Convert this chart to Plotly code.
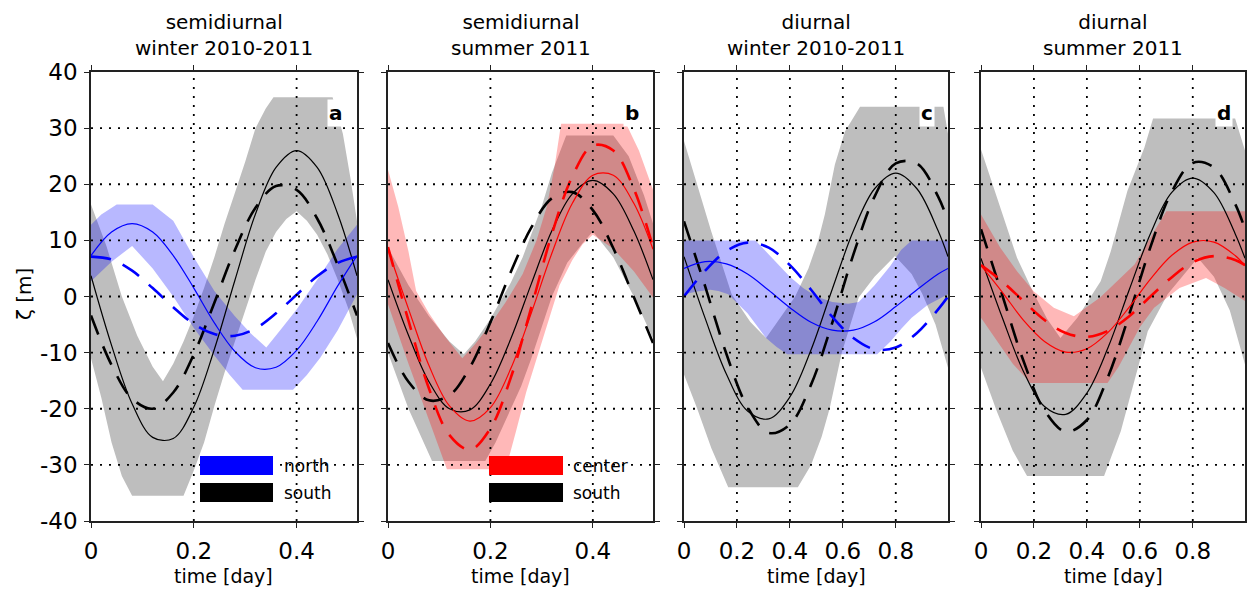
import plotly.graph_objects as go

# ---------------- data ----------------
# time grids [day]
TS = [0, 0.04, 0.08, 0.12, 0.16, 0.20, 0.24, 0.28, 0.32, 0.36, 0.40, 0.44, 0.48, 0.5175]
TD = [0, 0.08, 0.16, 0.24, 0.32, 0.40, 0.48, 0.56, 0.64, 0.72, 0.80, 0.88, 0.96, 0.9973]

Y_TICKS = [-40, -30, -20, -10, 0, 10, 20, 30, 40]
Y_TICKTEXT = ["-40", "-30", "-20", "-10", "0", "10", "20", "30", "40"]
X_TICKS_SEMI = [0, 0.2, 0.4]
X_TICKTEXT_SEMI = ["0", "0.2", "0.4"]
X_TICKS_DIUR = [0, 0.2, 0.4, 0.6, 0.8]
X_TICKTEXT_DIUR = ["0", "0.2", "0.4", "0.6", "0.8"]

# panel a: semidiurnal winter 2010-2011 (north / south)
a_south_model = [3.7, -8.7, -19.1, -25.1, -25.3, -19.7, -9.4, 2.9, 14.7, 23.0, 26.0, 23.0, 14.7, 3.7]
a_south_obs = [-3.4, -12.2, -18.2, -20.0, -17.1, -10.3, -1.1, 8.3, 15.8, 19.7, 19.0, 13.9, 5.6, -3.4]
a_north_model = [7.3, 11.5, 13.0, 11.5, 7.3, 1.5, -4.7, -9.8, -12.7, -12.6, -9.6, -4.4, 1.9, 7.3]
a_north_obs = [7.1, 6.6, 4.6, 1.5, -1.9, -4.9, -6.7, -7.0, -5.7, -3.0, 0.3, 3.6, 6.0, 7.1]
a_gray_up_t = [0, 0.03, 0.06, 0.09, 0.12, 0.14, 0.16, 0.18, 0.20, 0.22, 0.24, 0.26, 0.28, 0.30, 0.32, 0.34, 0.355, 0.47, 0.49, 0.505, 0.5175]
a_gray_up = [16.4, 9.0, 0.0, -7.0, -12.5, -15.1, -12.0, -8.0, -3.5, 1.5, 7.0, 13.0, 18.5, 24.0, 30.0, 33.5, 35.5, 35.5, 29.0, 21.0, 13.4]
a_gray_lo_t = [0, 0.02, 0.04, 0.06, 0.08, 0.18, 0.20, 0.22, 0.24, 0.26, 0.28, 0.30, 0.32, 0.34, 0.36, 0.38, 0.40, 0.42, 0.44, 0.46, 0.48, 0.50, 0.5175]
a_gray_lo = [-11.0, -18.0, -26.0, -32.0, -35.5, -35.5, -31.0, -26.0, -19.5, -13.5, -8.0, -2.5, 3.0, 8.0, 11.5, 13.8, 15.2, 13.5, 11.0, 7.5, 3.0, -2.0, -7.5]
a_band_up_t = [0, 0.02, 0.05, 0.12, 0.16, 0.20, 0.24, 0.28, 0.31, 0.341, 0.37, 0.40, 0.44, 0.48, 0.5175]
a_band_up = [12.8, 14.6, 16.4, 16.4, 13.5, 7.0, 1.0, -3.5, -6.5, -9.1, -5.8, -2.3, 3.0, 8.5, 12.8]
a_band_lo_t = [0, 0.04, 0.08, 0.12, 0.16, 0.20, 0.24, 0.27, 0.295, 0.393, 0.42, 0.446, 0.48, 0.5175]
a_band_lo = [2.7, 6.2, 9.0, 5.0, 0.0, -5.6, -10.5, -14.0, -16.6, -16.6, -14.0, -10.9, -6.0, 0.4]

# panel b: semidiurnal summer 2011 (center / south)
b_south_model = [3.0, -6.9, -15.2, -20.0, -20.2, -15.6, -7.5, 2.3, 11.7, 18.3, 20.7, 18.3, 11.7, 3.0]
b_south_obs = [-8.3, -15.2, -18.5, -17.6, -12.6, -4.6, 4.4, 12.3, 17.5, 18.6, 15.4, 8.6, -0.1, -8.3]
b_center_model = [8.4, -2.2, -12.3, -19.5, -22.2, -19.8, -12.8, -2.9, 7.7, 16.6, 21.6, 21.6, 16.6, 8.4]
b_center_obs = [8.8, -4.3, -16.4, -24.7, -27.3, -23.5, -14.4, -1.9, 11.1, 21.4, 26.9, 26.0, 19.2, 8.8]
b_gray_up_t = [0, 0.04, 0.08, 0.12, 0.148, 0.17, 0.20, 0.24, 0.263, 0.28, 0.30, 0.32, 0.348, 0.44, 0.47, 0.50, 0.5175]
b_gray_up = [8.7, 2.0, -3.5, -8.0, -10.3, -8.0, -4.0, 2.5, 7.0, 11.0, 16.0, 22.0, 28.7, 28.7, 25.0, 18.0, 13.0]
b_gray_lo_t = [0, 0.04, 0.086, 0.19, 0.21, 0.24, 0.26, 0.28, 0.30, 0.32, 0.35, 0.38, 0.40, 0.44, 0.48, 0.5175]
b_gray_lo = [-10.0, -20.0, -29.3, -29.3, -26.0, -20.0, -16.0, -11.0, -5.5, 0.0, 6.0, 9.5, 11.6, 7.0, 0.0, -7.5]
b_band_up_t = [0, 0.02, 0.04, 0.055, 0.08, 0.11, 0.145, 0.17, 0.20, 0.23, 0.263, 0.29, 0.31, 0.325, 0.338, 0.465, 0.49, 0.5175]
b_band_up = [22.6, 16.0, 8.0, 1.0, -3.0, -7.0, -11.0, -8.5, -5.0, -1.0, 4.0, 10.0, 16.0, 23.0, 30.8, 30.8, 26.0, 19.0]
b_band_lo_t = [0, 0.04, 0.08, 0.10, 0.115, 0.23, 0.25, 0.27, 0.30, 0.335, 0.36, 0.38, 0.40, 0.44, 0.48, 0.5175]
b_band_lo = [-1.4, -12.0, -22.0, -27.0, -30.8, -30.8, -24.0, -17.0, -8.0, 2.0, 6.5, 9.3, 11.0, 8.5, 4.5, -0.2]

# panel c: diurnal winter 2010-2011 (north / south)
c_south_model = [7.1, -3.9, -13.8, -20.4, -21.8, -17.9, -9.5, 1.3, 11.7, 19.2, 22.0, 19.2, 11.7, 7.1]
c_south_obs = [13.4, 1.8, -10.2, -19.7, -24.3, -22.8, -15.7, -4.7, 7.5, 17.8, 23.7, 23.7, 17.8, 13.4]
c_north_model = [5.0, 6.2, 5.8, 4.0, 1.1, -2.0, -4.6, -6.0, -6.0, -4.5, -1.8, 1.2, 4.0, 5.0]
c_north_obs = [0.0, 4.6, 8.1, 9.6, 8.7, 5.6, 1.2, -3.6, -7.4, -9.4, -9.1, -6.5, -2.3, 0.0]
c_gray_up_t = [0, 0.05, 0.103, 0.18, 0.25, 0.31, 0.36, 0.42, 0.47, 0.507, 0.532, 0.57, 0.608, 0.665, 0.98, 0.9973]
c_gray_up = [27.7, 20.0, 11.6, 0.4, -4.5, -7.4, -4.0, 0.0, 5.0, 10.0, 14.6, 23.5, 29.4, 33.8, 33.8, 29.0]
c_gray_lo_t = [0, 0.05, 0.103, 0.167, 0.43, 0.48, 0.52, 0.55, 0.596, 0.66, 0.72, 0.797, 0.86, 0.90, 0.95, 0.9973]
c_gray_lo = [-13.9, -20.0, -27.0, -34.0, -34.0, -30.0, -25.0, -20.0, -10.0, -0.2, 3.5, 7.2, 4.0, 0.5, -5.0, -12.7]
c_band_up_t = [0, 0.27, 0.30, 0.35, 0.40, 0.45, 0.50, 0.56, 0.62, 0.66, 0.72, 0.78, 0.82, 0.86, 0.9973]
c_band_up = [10.0, 10.0, 8.5, 6.0, 3.5, 1.5, 0.0, -1.0, -1.3, -1.0, 2.0, 5.5, 8.3, 10.0, 10.0]
c_band_lo_t = [0, 0.05, 0.10, 0.13, 0.167, 0.24, 0.31, 0.35, 0.39, 0.73, 0.78, 0.82, 0.86, 0.92, 0.9973]
c_band_lo = [0.4, 0.9, 1.2, 1.0, 0.4, -3.0, -7.4, -9.0, -10.3, -10.3, -8.0, -5.8, -3.8, -1.5, 0.4]

# panel d: diurnal summer 2011 (center / south)
d_south_model = [6.8, -3.7, -13.3, -19.6, -21.0, -17.2, -9.1, 1.2, 11.2, 18.5, 21.1, 18.5, 11.2, 6.8]
d_south_obs = [12.0, 0.3, -11.4, -20.3, -24.1, -22.0, -14.3, -3.2, 8.8, 18.6, 23.8, 23.0, 16.5, 12.0]
d_center_model = [5.5, 0.8, -4.2, -8.0, -9.9, -9.3, -6.4, -1.9, 3.1, 7.3, 9.7, 9.7, 7.3, 5.5]
d_center_obs = [5.6, 2.7, -0.8, -4.2, -6.5, -7.2, -6.1, -3.5, 0.0, 3.4, 6.1, 7.2, 6.5, 5.6]
d_gray_up_t = [0, 0.073, 0.136, 0.20, 0.25, 0.30, 0.364, 0.452, 0.49, 0.553, 0.617, 0.65, 0.96, 0.9973]
d_gray_up = [26.2, 15.8, 6.9, 0.5, -4.0, -7.4, -3.8, 2.7, 8.0, 18.8, 26.5, 31.7, 31.7, 26.0]
d_gray_lo_t = [0, 0.06, 0.12, 0.174, 0.465, 0.528, 0.579, 0.63, 0.705, 0.819, 0.88, 0.94, 0.9973]
d_gray_lo = [-12.7, -20.5, -27.5, -32.0, -32.0, -24.0, -15.0, -6.2, 0.4, 6.9, 3.5, -2.5, -12.1]
d_band_up_t = [0, 0.073, 0.136, 0.20, 0.275, 0.351, 0.45, 0.58, 0.64, 0.70, 0.9973]
d_band_up = [14.6, 8.7, 4.5, 0.9, -2.0, -3.5, -0.2, 5.7, 10.5, 15.2, 15.2]
d_band_lo_t = [0, 0.06, 0.12, 0.187, 0.478, 0.52, 0.553, 0.60, 0.654, 0.75, 0.85, 0.92, 0.9973]
d_band_lo = [-3.8, -8.0, -12.0, -15.4, -15.4, -12.5, -9.7, -5.5, -2.0, 1.5, 3.3, 1.5, -0.8]

TITLES = ["semidiurnal<br>winter 2010-2011", "semidiurnal<br>summer 2011",
          "diurnal<br>winter 2010-2011", "diurnal<br>summer 2011"]
LABELS = ["a", "b", "c", "d"]
REGION = ["north", "center", "north", "center"]

# ---------------- styling ----------------
FONT = "DejaVu Sans"
GRAY = "rgb(190,190,190)"
COLORS = {"north": "#0000ff", "center": "#ff0000"}
FILLS = {"north": "rgba(0,0,255,0.28)", "center": "rgba(255,0,0,0.28)"}
DASH = "20px,13px"

X_DOMAINS = [[91 / 1247, 357 / 1247], [388 / 1247, 653 / 1247],
             [684 / 1247, 948 / 1247], [981 / 1247, 1245 / 1247]]
Y_DOMAIN = [69 / 590, 518 / 590]

panels = [
    dict(t=TS, rng=[0, 0.5175], xt=(X_TICKS_SEMI, X_TICKTEXT_SEMI),
         sm=a_south_model, so=a_south_obs, cm=a_north_model, co=a_north_obs,
         gu=(a_gray_up_t, a_gray_up), gl=(a_gray_lo_t, a_gray_lo),
         bu=(a_band_up_t, a_band_up), bl=(a_band_lo_t, a_band_lo)),
    dict(t=TS, rng=[0, 0.5175], xt=(X_TICKS_SEMI, X_TICKTEXT_SEMI),
         sm=b_south_model, so=b_south_obs, cm=b_center_model, co=b_center_obs,
         gu=(b_gray_up_t, b_gray_up), gl=(b_gray_lo_t, b_gray_lo),
         bu=(b_band_up_t, b_band_up), bl=(b_band_lo_t, b_band_lo)),
    dict(t=TD, rng=[0, 0.9973], xt=(X_TICKS_DIUR, X_TICKTEXT_DIUR),
         sm=c_south_model, so=c_south_obs, cm=c_north_model, co=c_north_obs,
         gu=(c_gray_up_t, c_gray_up), gl=(c_gray_lo_t, c_gray_lo),
         bu=(c_band_up_t, c_band_up), bl=(c_band_lo_t, c_band_lo)),
    dict(t=TD, rng=[0, 0.9973], xt=(X_TICKS_DIUR, X_TICKTEXT_DIUR),
         sm=d_south_model, so=d_south_obs, cm=d_center_model, co=d_center_obs,
         gu=(d_gray_up_t, d_gray_up), gl=(d_gray_lo_t, d_gray_lo),
         bu=(d_band_up_t, d_band_up), bl=(d_band_lo_t, d_band_lo)),
]

fig = go.Figure()
layout = dict(template="none", width=1247, height=590, margin=dict(l=0, r=0, t=0, b=0, pad=0),
              paper_bgcolor="white", plot_bgcolor="white", showlegend=False,
              font=dict(family=FONT, color="black"))
shapes = []
annotations = []

for i, p in enumerate(panels):
    n = "" if i == 0 else str(i + 1)
    xa, ya = "x" + n, "y" + n
    reg = REGION[i]

    def band(up, lo, color):
        xs = list(up[0]) + list(lo[0])[::-1]
        ys = list(up[1]) + list(lo[1])[::-1]
        return go.Scatter(x=xs, y=ys, mode="lines", fill="toself", fillcolor=color,
                          line=dict(width=0), hoverinfo="skip", xaxis=xa, yaxis=ya)

    fig.add_trace(band(p["gu"], p["gl"], GRAY))
    fig.add_trace(band(p["bu"], p["bl"], FILLS[reg]))
    fig.add_trace(go.Scatter(x=p["t"], y=p["sm"], mode="lines", line=dict(color="black", width=1.2, shape="spline"),
                             xaxis=xa, yaxis=ya, name="south model"))
    fig.add_trace(go.Scatter(x=p["t"], y=p["so"], mode="lines", line=dict(color="black", width=2.6, dash=DASH, shape="spline"),
                             xaxis=xa, yaxis=ya, name="south obs"))
    fig.add_trace(go.Scatter(x=p["t"], y=p["cm"], mode="lines", line=dict(color=COLORS[reg], width=1.2, shape="spline"),
                             xaxis=xa, yaxis=ya, name=reg + " model"))
    fig.add_trace(go.Scatter(x=p["t"], y=p["co"], mode="lines", line=dict(color=COLORS[reg], width=2.6, dash=DASH, shape="spline"),
                             xaxis=xa, yaxis=ya, name=reg + " obs"))

    axline = dict(showline=True, linecolor="#222", linewidth=1.5, mirror="ticks", ticks="outside",
                  ticklen=5, tickwidth=1.3, tickcolor="#222", showgrid=False, zeroline=False,
                  automargin=False, tickfont=dict(family=FONT, size=23, color="black"))
    layout["xaxis" + n] = dict(axline, domain=X_DOMAINS[i], range=p["rng"], anchor=ya,
                               tickvals=p["xt"][0], ticktext=p["xt"][1], ticklabelstandoff=4)
    layout["yaxis" + n] = dict(axline, domain=Y_DOMAIN, range=[-40, 40], anchor=xa,
                               tickvals=Y_TICKS, ticktext=Y_TICKTEXT, showticklabels=(i == 0),
                               ticklabelstandoff=2)

    # dotted grid drawn above the bands
    for xv in p["xt"][0][1:]:
        shapes.append(dict(type="line", xref=xa, yref=ya + " domain", x0=xv, x1=xv, y0=0, y1=1,
                           line=dict(color="black", width=1.8, dash="2px,7px"), layer="above"))
    for yv in Y_TICKS[1:-1]:
        shapes.append(dict(type="line", xref=xa + " domain", yref=ya, x0=0, x1=1, y0=yv, y1=yv,
                           line=dict(color="black", width=1.8, dash="2px,7px"), layer="above"))

    # titles
    annotations.append(dict(text=TITLES[i], xref=xa + " domain", yref="paper", x=0.5, y=1 - 35 / 590,
                            showarrow=False, font=dict(family=FONT, size=20, color="black"),
                            xanchor="center", yanchor="middle"))
    annotations.append(dict(text="time [day]", xref=xa + " domain", yref="paper", x=0.5, y=1 - 576 / 590,
                            showarrow=False, font=dict(family=FONT, size=19, color="black"),
                            xanchor="center", yanchor="middle"))
    # panel letter
    annotations.append(dict(text="<b>" + LABELS[i] + "</b>", xref=xa + " domain", yref=ya + " domain",
                            x=0.92, y=(518 - 110) / 449, showarrow=False, bgcolor="white", borderpad=1,
                            font=dict(family=FONT, size=20, color="black"),
                            xanchor="center", yanchor="middle"))

annotations.append(dict(text="ζ [m]", xref="paper", yref="paper", x=24 / 1247, y=1 - 294 / 590,
                        textangle=-90, showarrow=False, font=dict(family=FONT, size=20, color="black"),
                        xanchor="center", yanchor="middle"))

# legends (panels a and b)
LEG = [("x", "y", "north", 0.4098, 0.6842, 0.718), ("x2", "y2", "center", 0.3811, 0.6604, 0.6906)]
for xa, ya, reg, x0, x1, xt in LEG:
    for color, (y0, y1), label in [(COLORS[reg], (0.1024, 0.1448), reg), ("black", (0.0423, 0.0846), "south")]:
        shapes.append(dict(type="rect", xref=xa + " domain", yref=ya + " domain", x0=x0, x1=x1, y0=y0, y1=y1,
                           fillcolor=color, line=dict(width=0), layer="above"))
        annotations.append(dict(text=label, xref=xa + " domain", yref=ya + " domain", x=xt, y=(y0 + y1) / 2,
                                showarrow=False, xanchor="left", yanchor="middle",
                                font=dict(family=FONT, size=17, color="black")))

layout["shapes"] = shapes
layout["annotations"] = annotations
fig.update_layout(**layout)
fig.write_html("out.html")
